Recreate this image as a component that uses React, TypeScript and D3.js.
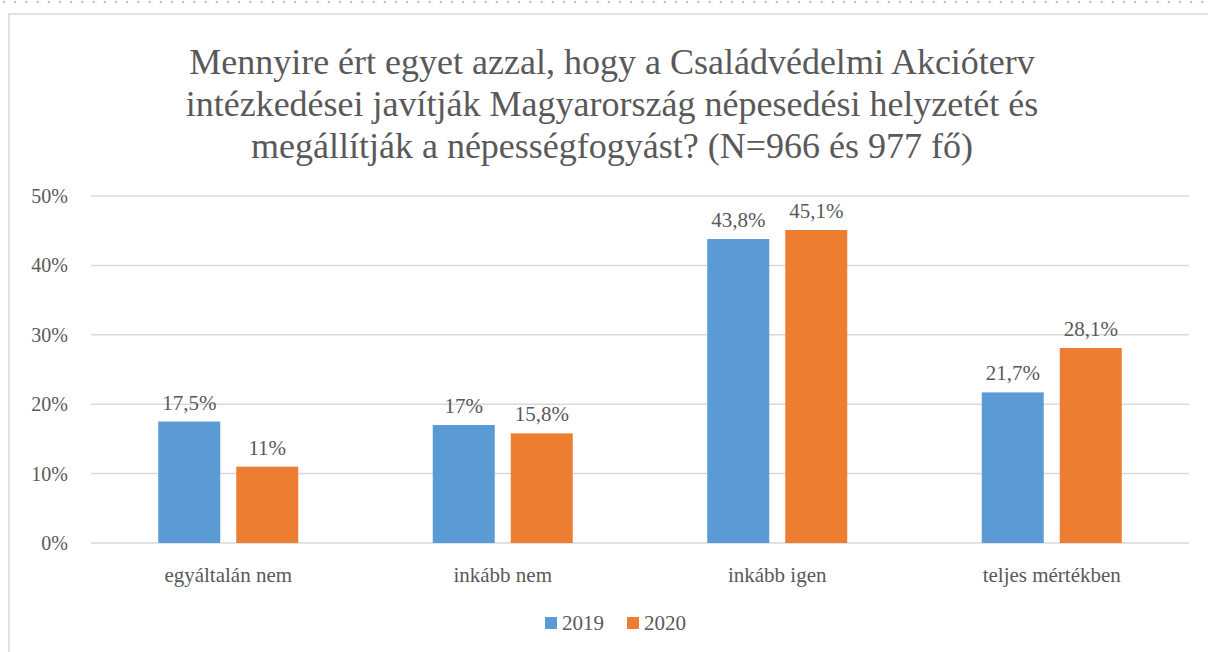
import React from "react";
import * as d3 from "d3";

const categories = ["egyáltalán nem", "inkább nem", "inkább igen", "teljes mértékben"];
const seriesNames = ["2019", "2020"];
const values2019 = [17.5, 17, 43.8, 21.7];
const values2020 = [11, 15.8, 45.1, 28.1];
const labels2019 = ["17,5%", "17%", "43,8%", "21,7%"];
const labels2020 = ["11%", "15,8%", "45,1%", "28,1%"];
const yTicks = [0, 10, 20, 30, 40, 50];
const titleLines = [
  "Mennyire ért egyet azzal, hogy a Családvédelmi Akcióterv",
  "intézkedései javítják Magyarország népesedési helyzetét és",
  "megállítják a népességfogyást? (N=966 és 977 fő)",
];

const colors = ["#5B9BD5", "#ED7D31"];
const textColor = "#595959";
const font = "'Liberation Serif', Tinos, 'Times New Roman', 'DejaVu Serif', serif";

export default function App() {
  const W = 1208, H = 652;
  const left = 91, right = 1189, top = 196, bottom = 543;
  const x = d3.scaleBand<string>().domain(categories).range([left, right]);
  const y = d3.scaleLinear().domain([0, 50]).range([bottom, top]);
  const inner = d3.scaleBand<string>().domain(seriesNames).range([-70, 70]).paddingInner(16 / 78);
  const series = [values2019, values2020];
  const labels = [labels2019, labels2020];
  const dots = d3.range(4, W, 11.2);
  return (
    <svg width={W} height={H} style={{ position: "absolute", left: 0, top: 0, background: "#fff", fontFamily: font }}>
      {dots.map((d, i) => (
        <circle key={i} cx={d} cy={2} r={1.2} fill="#BFBFBF" />
      ))}
      <rect x={9} y={14} width={W + 10} height={H + 10} fill="#fff" stroke="#D9D9D9" strokeWidth={1.5} />
      {titleLines.map((t, i) => (
        <text key={i} x={612} y={74 + i * 42} textAnchor="middle" fontSize={36} fill={textColor}>
          {t}
        </text>
      ))}
      {yTicks.map((t) => (
        <g key={t}>
          <line x1={left} x2={right} y1={y(t)} y2={y(t)} stroke="#D9D9D9" strokeWidth={1.5} />
          <text x={68} y={y(t) + 7} textAnchor="end" fontSize={20} fill={textColor}>
            {t}%
          </text>
        </g>
      ))}
      {categories.map((c, ci) => (
        <g key={c}>
          {seriesNames.map((s, si) => {
            const cx = (x(c) as number) + x.bandwidth() / 2;
            const bx = cx + (inner(s) as number);
            const v = series[si][ci];
            return (
              <g key={s}>
                <rect x={bx} y={y(v)} width={inner.bandwidth()} height={bottom - y(v)} fill={colors[si]} />
                <text x={bx + inner.bandwidth() / 2} y={y(v) - 12} textAnchor="middle" fontSize={21} fill={textColor}>
                  {labels[si][ci]}
                </text>
              </g>
            );
          })}
          <text x={(x(c) as number) + x.bandwidth() / 2} y={582} textAnchor="middle" fontSize={21} fill={textColor}>
            {c}
          </text>
        </g>
      ))}
      {seriesNames.map((s, si) => (
        <g key={s} transform={`translate(${545 + si * 82},617)`}>
          <rect x={0} y={0} width={12} height={12} fill={colors[si]} />
          <text x={17} y={13} fontSize={21} fill={textColor}>
            {s}
          </text>
        </g>
      ))}
    </svg>
  );
}
